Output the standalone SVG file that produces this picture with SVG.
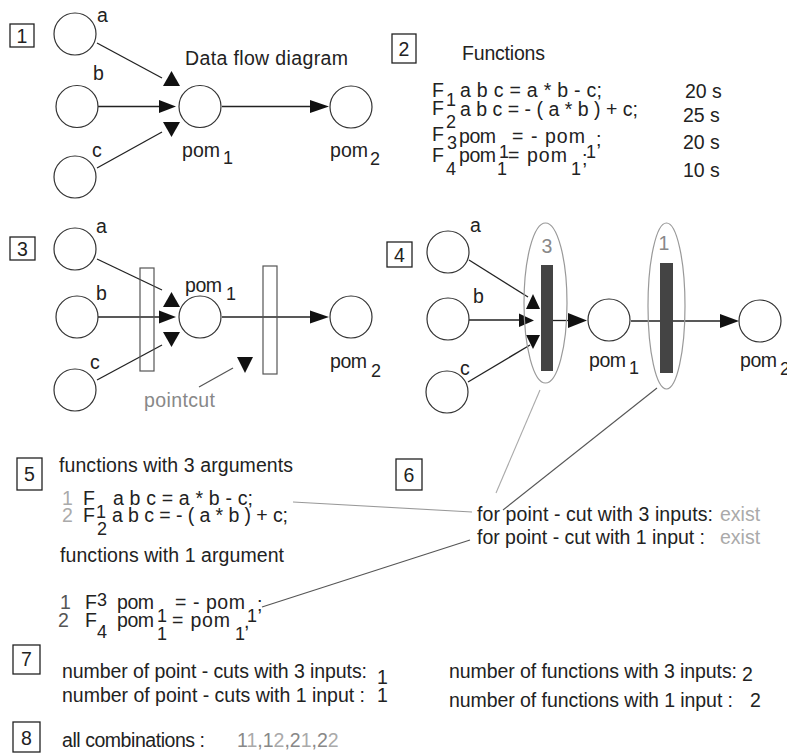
<svg xmlns="http://www.w3.org/2000/svg" width="787" height="753" viewBox="0 0 787 753">
<style>
text{font-family:"Liberation Sans",Arial,sans-serif;font-size:19.5px;fill:#222}
.s{font-size:18px}
.lg{fill:#aaa}
.mg{fill:#888}
.dg{fill:#555}
.node{fill:#fff;stroke:#333;stroke-width:1.2}
.box{fill:none;stroke:#222;stroke-width:1.3}
.ln{stroke:#222;stroke-width:1.3;fill:none}
.ah{fill:#111}
.cut{fill:none;stroke:#555;stroke-width:1.2}
.bar{fill:#444}
.ell{fill:none;stroke:#999;stroke-width:1.2}
</style>
<rect width="787" height="753" fill="#fff"/>

<!-- section labels -->
<g id="labels">
<rect class="box" x="10" y="24" width="24" height="23"/><text x="22" y="43" text-anchor="middle">1</text>
<rect class="box" x="392" y="34" width="24" height="29"/><text x="404" y="56" text-anchor="middle">2</text>
<rect class="box" x="10" y="237" width="25" height="23"/><text x="22.5" y="256" text-anchor="middle">3</text>
<rect class="box" x="387" y="242" width="25" height="25"/><text x="399.5" y="262" text-anchor="middle">4</text>
<rect class="box" x="17" y="458" width="25" height="32"/><text x="29.5" y="481" text-anchor="middle">5</text>
<rect class="box" x="396" y="459" width="26" height="31"/><text x="409" y="482" text-anchor="middle">6</text>
<rect class="box" x="13" y="645" width="27" height="29"/><text x="26.5" y="666" text-anchor="middle">7</text>
<rect class="box" x="13" y="722" width="27" height="30"/><text x="26.5" y="745" text-anchor="middle">8</text>
</g>

<!-- connectors -->
<g id="connectors">
<!-- diagram 1 -->
<line class="ln" x1="97" y1="43" x2="162" y2="78"/>
<line class="ln" x1="98" y1="106.5" x2="160" y2="106.5"/>
<line class="ln" x1="97" y1="168" x2="162" y2="132"/>
<line class="ln" x1="222" y1="106.5" x2="312" y2="106.5"/>
<polygon class="ah" points="163,86 180,86 171.5,71"/>
<polygon class="ah" points="159,100 159,113 176,106.5"/>
<polygon class="ah" points="163,122 180,122 171.5,137"/>
<polygon class="ah" points="310,100 310,113 329,106.5"/>
<!-- diagram 3 -->
<line class="ln" x1="97" y1="259" x2="162" y2="290"/>
<line class="ln" x1="98" y1="317" x2="160" y2="317"/>
<line class="ln" x1="97" y1="380" x2="162" y2="345"/>
<line class="ln" x1="222" y1="317" x2="312" y2="317"/>
<polygon class="ah" points="163,307 180,307 171.5,292"/>
<polygon class="ah" points="159,310.5 159,323.5 176,317"/>
<polygon class="ah" points="163,332 180,332 171.5,347"/>
<polygon class="ah" points="310,310.5 310,323.5 329,317"/>
<line x1="199" y1="387" x2="233" y2="368" stroke="#555" stroke-width="1.2"/>
<polygon class="ah" points="237,357 253,357 245,373"/>
<!-- diagram 4 -->
<line class="ln" x1="469" y1="260" x2="528" y2="297"/>
<line class="ln" x1="469" y1="320" x2="520" y2="320"/>
<line class="ln" x1="468" y1="382" x2="530" y2="345"/>
<polygon class="ah" points="526,309 540,309 533,294"/>
<polygon class="ah" points="519,313.5 519,327 534,320.5"/>
<polygon class="ah" points="526,335 540,335 533,349"/>
<line class="ln" x1="553" y1="320.5" x2="570" y2="320.5"/>
<polygon class="ah" points="568,313 568,328 587,320.5"/>
<line class="ln" x1="631" y1="321" x2="722" y2="321"/>
<polygon class="ah" points="720,314 720,328 739,321"/>
<!-- to section 6 -->
<line x1="540" y1="390" x2="496" y2="493" stroke="#aaa" stroke-width="1.1"/>
<line x1="657" y1="388" x2="503" y2="510" stroke="#555" stroke-width="1.1"/>
<line x1="293" y1="502" x2="472" y2="512" stroke="#999" stroke-width="1.1"/>
<line x1="262" y1="607" x2="470" y2="540" stroke="#555" stroke-width="1.1"/>
</g>

<!-- diagram 1 -->
<g id="d1-a"><circle class="node" cx="75" cy="34" r="21"/><text x="97" y="22">a</text></g>
<g id="d1-b"><circle class="node" cx="77" cy="106.5" r="21"/><text x="93" y="80">b</text></g>
<g id="d1-c"><circle class="node" cx="75" cy="177" r="21"/><text x="92" y="157">c</text></g>
<g id="d1-pom1"><circle class="node" cx="200" cy="106.5" r="21"/><text x="182" y="157" textLength="38">pom</text><text x="223" y="164" class="s">1</text></g>
<g id="d1-pom2"><circle class="node" cx="351" cy="107" r="21"/><text x="330" y="157" textLength="38">pom</text><text x="370" y="165" class="s">2</text></g>
<text x="185" y="65" textLength="163">Data flow diagram</text>

<!-- section 2 -->
<g id="functions">
<text x="462" y="60" textLength="83">Functions</text>
<text x="432" y="97">F</text><text x="446" y="106" class="s">1</text><text x="460" y="97" textLength="142">a b c = a * b - c;</text><text x="685" y="98">20 s</text>
<text x="432" y="115">F</text><text x="446" y="128" class="s">2</text><text x="460" y="116" textLength="178">a b c = - ( a * b ) + c;</text><text x="683" y="122">25 s</text>
<text x="432" y="141">F</text><text x="447" y="149" class="s">3</text><text x="459" y="143" textLength="37">pom</text><text x="499" y="158" class="s">1</text><text x="512" y="143" textLength="73">= - pom</text><text x="586" y="158" class="s">1</text><text x="596" y="146">;</text><text x="683" y="149">20 s</text>
<text x="432" y="162">F</text><text x="446" y="175" class="s">4</text><text x="459" y="162" textLength="37">pom</text><text x="497" y="175" class="s">1</text><text x="508" y="162" textLength="59">= pom</text><text x="571" y="175" class="s">1</text><text x="582" y="165">;</text><text x="683" y="177">10 s</text>
</g>

<!-- diagram 3 -->
<g id="d3-cut1"><rect class="cut" x="140" y="268" width="14" height="103"/></g>
<g id="d3-cut2"><rect class="cut" x="263" y="266" width="14" height="108"/></g>
<g id="d3-a"><circle class="node" cx="75" cy="249" r="21"/><text x="96" y="233">a</text></g>
<g id="d3-b"><circle class="node" cx="77" cy="317" r="21"/><text x="96" y="300">b</text></g>
<g id="d3-c"><circle class="node" cx="75" cy="390" r="21"/><text x="90" y="369">c</text></g>
<g id="d3-pom1"><circle class="node" cx="200" cy="317" r="21"/><text x="185" y="292" textLength="37">pom</text><text x="226" y="300" class="s">1</text></g>
<g id="d3-pom2"><circle class="node" cx="351" cy="317" r="21"/><text x="330" y="368" textLength="37">pom</text><text x="371" y="377" class="s">2</text></g>
<text x="144" y="407" class="mg" textLength="71">pointcut</text>

<!-- diagram 4 -->
<g id="d4-cut3"><ellipse class="ell" cx="545.5" cy="303" rx="21.5" ry="80"/><rect class="bar" x="541" y="265" width="12" height="106"/><text x="547" y="253" text-anchor="middle" class="mg">3</text></g>
<g id="d4-cut1"><ellipse class="ell" cx="666.5" cy="306" rx="18.5" ry="83"/><rect class="bar" x="660" y="263" width="13" height="110"/><text x="664" y="250" text-anchor="middle" class="mg">1</text></g>
<g id="d4-a"><circle class="node" cx="448" cy="252" r="21"/><text x="470" y="232">a</text></g>
<g id="d4-b"><circle class="node" cx="448" cy="319" r="21"/><text x="473" y="303">b</text></g>
<g id="d4-c"><circle class="node" cx="447" cy="392" r="21"/><text x="460" y="375">c</text></g>
<g id="d4-pom1"><circle class="node" cx="609" cy="320" r="21"/><text x="589" y="367" textLength="37">pom</text><text x="629" y="374" class="s">1</text></g>
<g id="d4-pom2"><circle class="node" cx="760" cy="321" r="21"/><text x="740" y="367" textLength="37">pom</text><text x="780" y="375" class="s">2</text></g>

<!-- section 5 -->
<g id="sec5">
<text x="59" y="472" textLength="234">functions with 3 arguments</text>
<text x="62" y="505" class="lg">1</text><text x="83" y="505">F</text><text x="96" y="518" class="s">1</text><text x="113" y="505" textLength="140">a b c = a * b - c;</text>
<text x="62" y="522" class="lg">2</text><text x="83" y="522">F</text><text x="97" y="535" class="s">2</text><text x="112" y="522" textLength="176">a b c = - ( a * b ) + c;</text>
<text x="60" y="562" textLength="224">functions with 1 argument</text>
<text x="60" y="609" class="dg">1</text><text x="85" y="609">F</text><text x="97" y="606" class="s">3</text><text x="117" y="609" textLength="37">pom</text><text x="157" y="622" class="s">1</text><text x="175" y="609" textLength="70">= - pom</text><text x="247" y="622" class="s">1</text><text x="257" y="611">;</text>
<text x="58" y="627" class="dg">2</text><text x="85" y="627">F</text><text x="97" y="638" class="s">4</text><text x="117" y="627" textLength="37">pom</text><text x="157" y="640" class="s">1</text><text x="172" y="627" textLength="58">= pom</text><text x="235" y="640" class="s">1</text><text x="244" y="628">,</text>
</g>

<!-- section 6 -->
<g id="sec6">
<text x="477" y="521" textLength="236">for point - cut with 3 inputs:</text><text x="720" y="521" class="lg">exist</text>
<text x="477" y="544" textLength="228">for point - cut with 1 input :</text><text x="720" y="544" class="lg">exist</text>
</g>

<!-- section 7 -->
<g id="sec7">
<text x="62" y="678" textLength="305">number of point - cuts with 3 inputs:</text><text x="377" y="684">1</text>
<text x="62" y="702" textLength="303">number of point - cuts with 1 input :</text><text x="377" y="702">1</text>
<text x="449" y="678" textLength="288">number of functions with 3 inputs:</text><text x="742" y="681">2</text>
<text x="449" y="707" textLength="284">number of functions with 1 input :</text><text x="750" y="707">2</text>
</g>

<!-- section 8 -->
<g id="sec8">
<text x="62" y="747" textLength="143">all combinations :</text>
<text x="237" y="747"><tspan class="mg">1</tspan><tspan class="lg">1</tspan><tspan class="mg">,1</tspan><tspan class="lg">2</tspan><tspan class="mg">,2</tspan><tspan class="lg">1</tspan><tspan class="mg">,2</tspan><tspan class="lg">2</tspan></text>
</g>
</svg>
